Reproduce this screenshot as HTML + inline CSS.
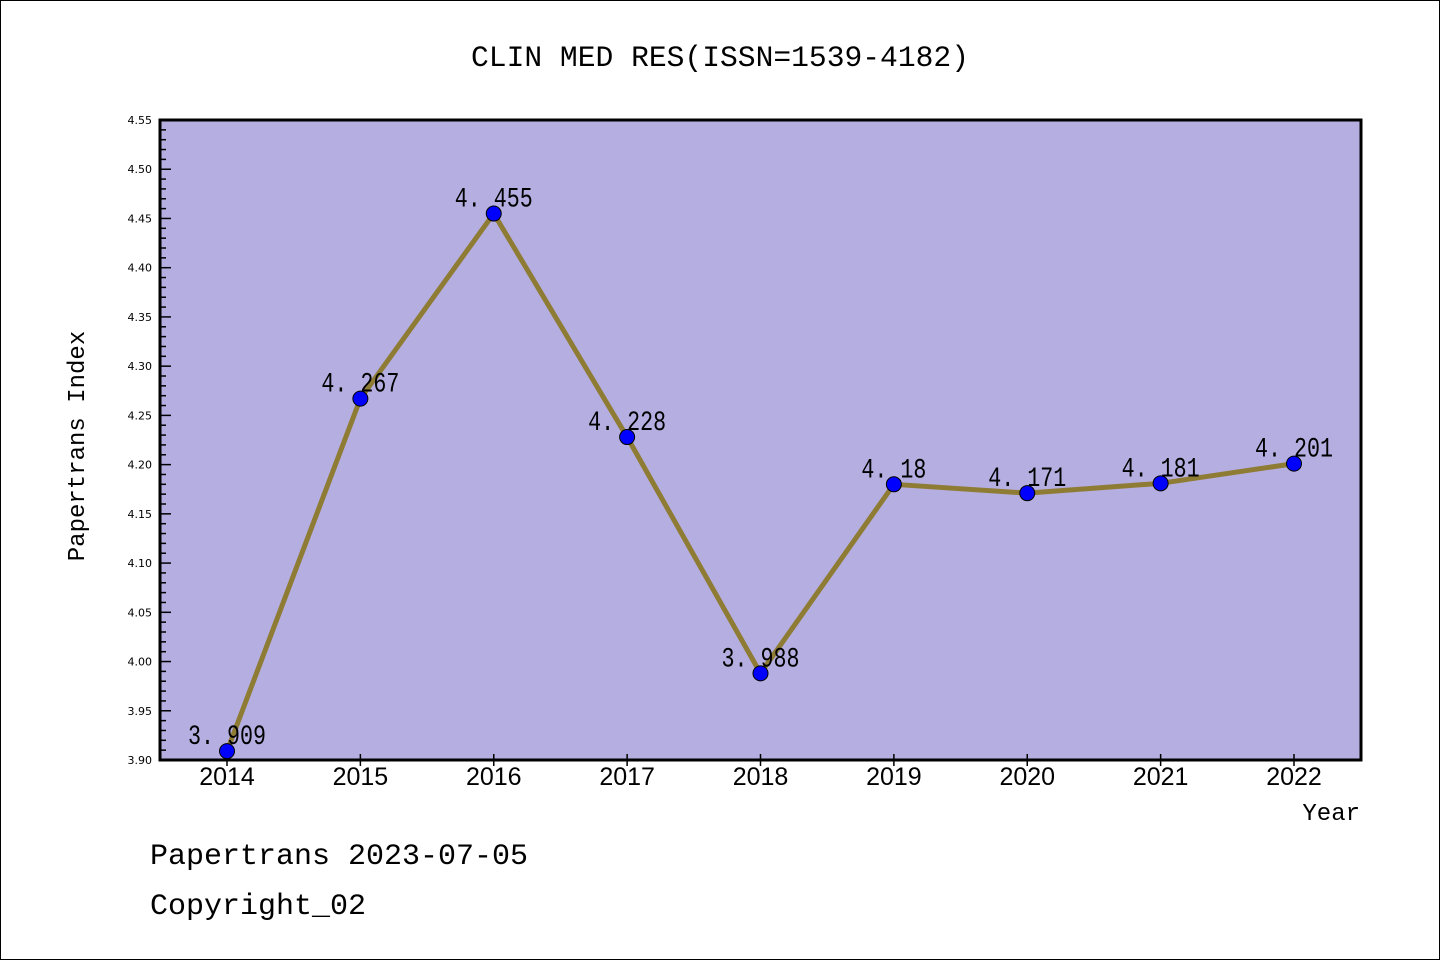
<!DOCTYPE html>
<html><head><meta charset="utf-8"><style>
body{margin:0;background:#fff;}
svg{display:block;font-family:"Liberation Mono","DejaVu Sans Mono",monospace;}
</style></head><body>
<svg id="chart" width="1440" height="960">
<rect x="0.5" y="0.5" width="1439" height="959" fill="#fff" stroke="#000"/>
<text x="720" y="66" font-size="30" text-anchor="middle" textLength="498" lengthAdjust="spacingAndGlyphs">CLIN MED RES(ISSN=1539-4182)</text>
<rect x="160" y="120" width="1201" height="640" fill="#b5aee1"/>
<g id="yticks"></g><g id="xticks"></g><g id="series"></g>
<rect x="160" y="120" width="1201" height="640" fill="none" stroke="#000" stroke-width="3"/>
<text transform="translate(84,446) rotate(-90)" font-size="24" text-anchor="middle">Papertrans Index</text>
<text x="1360" y="820" font-size="24" text-anchor="end">Year</text>
<text x="150" y="864" font-size="30">Papertrans 2023-07-05</text>
<text x="150" y="914" font-size="30">Copyright_02</text>
</svg>
<script>
const years=["2014","2015","2016","2017","2018","2019","2020","2021","2022"];
const values=[3.909,4.267,4.455,4.228,3.988,4.18,4.171,4.181,4.201];
const labels=["3.909","4.267","4.455","4.228","3.988","4.18","4.171","4.181","4.201"];
const yTickLabels=["3.90","3.95","4.00","4.05","4.10","4.15","4.20","4.25","4.30","4.35","4.40","4.45","4.50","4.55"];
const NS="http://www.w3.org/2000/svg";
const yMin=3.90,yMax=4.55;
function y(v){return 760-(v-yMin)/(yMax-yMin)*640;}
function x(i){return 227+i*133.375;}
function mk(t,a,p){const e=document.createElementNS(NS,t);for(const k in a)e.setAttribute(k,a[k]);p.appendChild(e);return e;}
const yt=document.getElementById('yticks');
for(let k=0;k<=65;k++){const v=yMin+k*0.01;const major=k%5===0;
 const l=mk('line',{x1:160,x2:major?171:166,y1:y(v),y2:y(v),stroke:'#000','stroke-width':1.5},yt);
 
 }
yTickLabels.forEach(s=>{const t=mk('text',{x:152,y:y(parseFloat(s))+4,'font-size':11,'text-anchor':'end','font-family':'"DejaVu Sans",sans-serif'},yt);t.textContent=s;
 
 });
const xt=document.getElementById('xticks');
years.forEach((s,i)=>{const l=mk('line',{x1:x(i),x2:x(i),y1:754,y2:766,stroke:'#000','stroke-width':1.5},xt);
 
 
 const t=mk('text',{x:x(i),y:785,'font-size':25,'text-anchor':'middle','font-family':'"Liberation Sans",sans-serif'},xt);t.textContent=s;
 
 });
const sg=document.getElementById('series');
const pl=mk('polyline',{points:values.map((v,i)=>x(i)+','+y(v)).join(' '),fill:'none',stroke:'#8f7c34','stroke-width':5,'stroke-linejoin':'round'},sg);


values.forEach((v,i)=>{const c=mk('circle',{cx:x(i),cy:y(v),r:7.5,fill:'#0000ff',stroke:'#000','stroke-width':1},sg);
 
 
 const s=labels[i].replace('.','. ');
 const t=mk('text',{x:x(i),y:y(v)-7,'font-size':28,'text-anchor':'middle',textLength:s.length*13,lengthAdjust:'spacingAndGlyphs'},sg);t.textContent=s;
 
 });
</script>
</body></html>
